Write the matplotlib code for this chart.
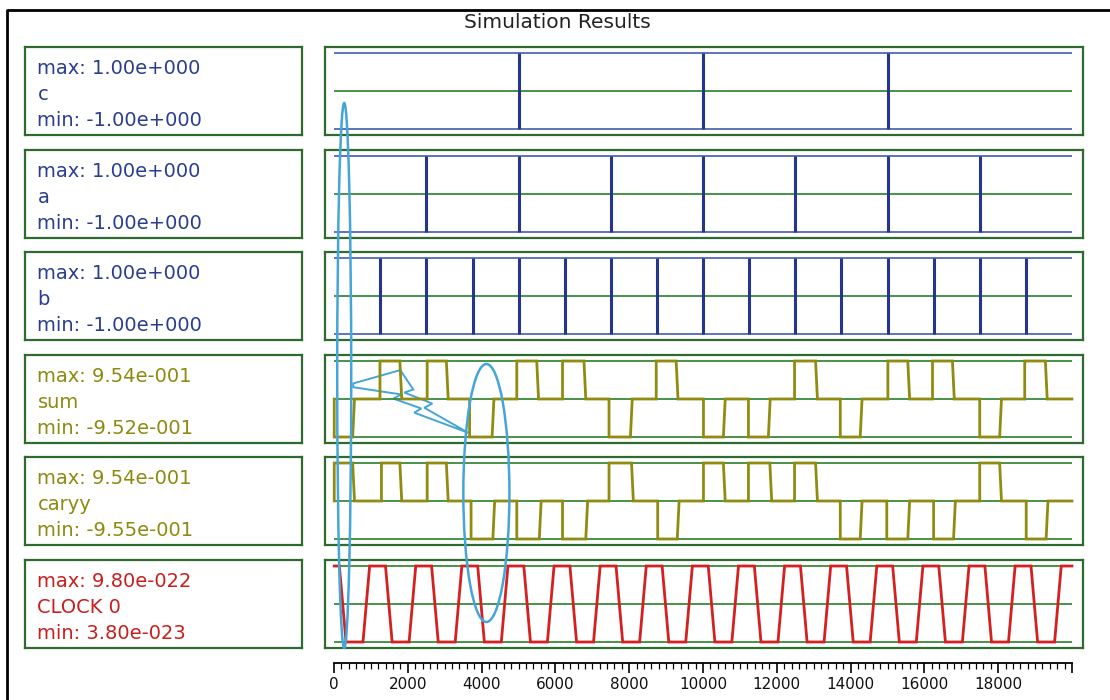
import matplotlib.pyplot as plt
from matplotlib.patches import Ellipse, Polygon
from matplotlib.lines import Line2D
from matplotlib.ticker import FixedLocator, MultipleLocator
from matplotlib import transforms

W, H = 1110, 700

# ---- data ----
t_end = 20000
tick_labels = [0, 2000, 4000, 6000, 8000, 10000, 12000, 14000, 16000, 18000]

c_edges = [5000, 10000, 15000]
a_edges = [2500, 5000, 7500, 10000, 12500, 15000, 17500]
b_edges = [1250, 2500, 3750, 5000, 6250, 7500, 8750, 10000,
           11250, 12500, 13750, 15000, 16250, 17500, 18750]

sum_on = [0, 1240, 2520, 3670, 4950, 6190, 7450, 8730, 10010, 11230, 12480, 13720, 15010, 16220, 17500, 18720]
sum_off = [500, 1780, 3040, 4280, 5490, 6770, 8030, 9270, 10550, 11770, 13050, 14260, 15550, 16760, 18040, 19280]
sum_sign = [-1, 1, 1, -1, 1, 1, -1, 1, -1, -1, 1, -1, 1, 1, -1, 1]

caryy_on = [0, 1280, 2520, 3710, 4950, 6190, 7450, 8770, 10010, 11230, 12480, 13720, 14980, 16250, 17500, 18760]
caryy_off = [500, 1780, 3040, 4300, 5560, 6820, 8060, 9300, 10550, 11810, 13050, 14260, 15550, 16790, 18040, 19300]
caryy_sign = [1, 1, 1, -1, -1, -1, 1, -1, 1, 1, 1, -1, -1, -1, 1, -1]

clock_fall = [230, 1480, 2730, 3980, 5230, 6480, 7730, 8980, 10230, 11480, 12730, 13980, 15230, 16480, 17730, 18980]
clock_rise = [870, 2120, 3370, 4620, 5870, 7120, 8370, 9620, 10870, 12120, 13370, 14620, 15870, 17120, 18370, 19620]

names = ['c', 'a', 'b', 'sum', 'caryy', 'CLOCK 0']
max_text = ['1.00e+000', '1.00e+000', '1.00e+000', '9.54e-001', '9.54e-001', '9.80e-022']
min_text = ['-1.00e+000', '-1.00e+000', '-1.00e+000', '-9.52e-001', '-9.55e-001', '3.80e-023']

# hand drawn marks (x in time units, y in panel units)
bolt_x = [516, 1790, 2144, 1900, 2660, 2442, 3636, 2171, 2361, 1601, 1818, 516]
bolt_y = [0.41, 0.76, 0.25, 0.17, -0.12, -0.23, -0.89, -0.36, -0.25, 0.01, 0.12, 0.31]

# ---- styles ----
BLUE = '#24358c'
BLUE_LIGHT = '#5068b8'
OLIVE = '#8f8c10'
RED = '#d42020'
GREEN = '#3a8a3a'
BOX = '#2f6a2f'
CYAN = '#45a5d8'
label_colors = ['#2a3d8f', '#2a3d8f', '#2a3d8f', '#8c8a10', '#8c8a10', '#c81e1e']


def pulses(on, off, sign, ramp=50):
    xs, ys = [0], [0]
    for t0, t1, s in zip(on, off, sign):
        xs += [t0, t0, t1, t1 + ramp]
        ys += [0, s, s, 0]
    xs.append(t_end)
    ys.append(0)
    return xs, ys


def clock(falls, rises, ramp=180):
    xs, ys = [0], [1]
    for f, r in zip(falls, rises):
        xs += [f - ramp / 2, f + ramp / 2, r - ramp / 2, r + ramp / 2]
        ys += [1, -1, -1, 1]
    xs.append(t_end)
    ys.append(1)
    return xs, ys


def px_axes(fig, left, top, width, height):
    return fig.add_axes([left / W, 1 - (top + height) / H, width / W, height / H])


def boxed(ax):
    ax.set_xticks([])
    ax.set_yticks([])
    for s in ax.spines.values():
        s.set_color(BOX)
        s.set_linewidth(1.6)


fig = plt.figure(figsize=(W / 100, H / 100), dpi=100)
fig.patch.set_facecolor('white')

fig.add_artist(Line2D([7 / W, 7 / W, 1], [0, 1 - 10 / H, 1 - 10 / H],
                      transform=fig.transFigure, color='black', lw=2))
fig.text(557 / W, 1 - 22 / H, 'Simulation Results', ha='center', va='center',
         fontsize=14.5, color='#222222')

edge_sets = [c_edges, a_edges, b_edges]
wave_sets = [pulses(sum_on, sum_off, sum_sign),
             pulses(caryy_on, caryy_off, caryy_sign),
             clock(clock_fall, clock_rise)]
wave_colors = [OLIVE, OLIVE, RED]

tops = [47, 150, 252, 355, 457, 560]
box_h = 88
plot_axes = []
for i, top in enumerate(tops):
    lab = px_axes(fig, 25, top, 277, box_h)
    boxed(lab)
    for yy, txt in zip([0.76, 0.46, 0.16],
                       ['max: ' + max_text[i], names[i], 'min: ' + min_text[i]]):
        lab.text(0.045, yy, txt, transform=lab.transAxes, va='center',
                 fontsize=14, color=label_colors[i])

    ax = px_axes(fig, 325, top, 758, box_h)
    boxed(ax)
    ax.set_xlim(-250, 20300)
    ax.set_ylim(-1.158, 1.158)
    if i < 3:
        # logic inputs: level lines plus transitions
        ax.hlines(0, 0, t_end, color=GREEN, lw=1.3)
        ax.hlines([-1, 1], 0, t_end, color=BLUE_LIGHT, lw=1.3)
        ax.vlines(edge_sets[i], -1, 1, color=BLUE, lw=2.2)
    else:
        ax.hlines([-1, 0, 1], 0, t_end, color=GREEN, lw=1.3)
        xs, ys = wave_sets[i - 3]
        ax.plot(xs, ys, color=wave_colors[i - 3], lw=2.0, solid_joinstyle='miter')
    plot_axes.append(ax)

# time axis
axt = px_axes(fig, 334, 662, 738, 1)
for k in ['left', 'right', 'top']:
    axt.spines[k].set_visible(False)
axt.spines['bottom'].set_linewidth(1.3)
axt.set_yticks([])
axt.set_xlim(0, t_end)
axt.xaxis.set_major_locator(FixedLocator(tick_labels + [t_end]))
axt.set_xticklabels([str(v) for v in tick_labels] + [''])
axt.xaxis.set_minor_locator(MultipleLocator(200))
axt.tick_params(axis='x', which='major', length=7, width=1.2, labelsize=11, pad=3,
                labelcolor='#111111')
axt.tick_params(axis='x', which='minor', length=4, width=0.9)

# cyan hand drawn marks
ax_sum = plot_axes[3]
blend = transforms.blended_transform_factory(ax_sum.transData, fig.transFigure)
fig.add_artist(Ellipse((271, 1 - 375.5 / H), 380, 545 / H, transform=blend,
                       fill=False, ec=CYAN, lw=1.8))
fig.add_artist(Ellipse((4125, 1 - 493 / H), 1250, 258 / H, transform=blend,
                       fill=False, ec=CYAN, lw=1.8))
ax_sum.add_patch(Polygon(list(zip(bolt_x, bolt_y)), closed=True, fill=False,
                         ec=CYAN, lw=1.4, clip_on=False))

plt.savefig('out.png', dpi=100)
